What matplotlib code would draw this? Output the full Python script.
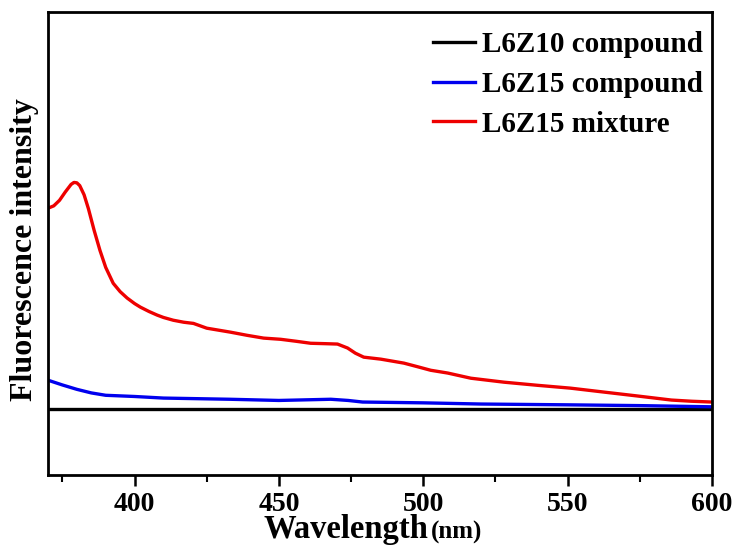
import matplotlib
matplotlib.use("Agg")
import matplotlib.pyplot as plt
from matplotlib.ticker import MultipleLocator

# Data
wl_red = [370, 372, 374, 376, 378, 379, 380, 381, 382.5, 384, 386, 388, 390, 392.6, 395,
          397.4, 400, 402, 405, 407.8, 410, 413.4, 417, 420.4, 425,
          433.2, 439, 444.7, 450.6, 456, 461, 466, 470.3, 473.8, 476.5, 479.4, 485.3, 493.3,
          498, 502.6, 508.5, 516.5, 528, 539.8, 551, 562.7, 574.5, 586, 593, 600]
red = [0.506, 0.512, 0.526, 0.547, 0.566, 0.571, 0.570, 0.563, 0.540, 0.505, 0.450, 0.400,
       0.357, 0.317, 0.296, 0.280, 0.266, 0.257, 0.246, 0.237, 0.231, 0.224, 0.219, 0.216, 0.204,
       0.194, 0.186, 0.179, 0.176, 0.171, 0.166, 0.165, 0.164, 0.154, 0.141, 0.131, 0.126, 0.116,
       0.107, 0.098, 0.091, 0.078, 0.068, 0.06, 0.053, 0.043, 0.033, 0.023, 0.020, 0.018]

wl_blue = [370, 375, 380, 385, 390, 400, 410, 433, 450, 468, 474, 479, 500, 520, 550, 575, 600]
blue = [0.073, 0.061, 0.05, 0.041, 0.035, 0.032, 0.028, 0.025, 0.022, 0.025, 0.022, 0.018,
        0.016, 0.013, 0.011, 0.009, 0.006]

wl_black = [370, 400, 450, 500, 550, 600]
black = [0.0, 0.0, 0.0, 0.0, 0.0, 0.0]

labels = ["L6Z10 compound", "L6Z15 compound", "L6Z15 mixture"]

plt.rcParams['font.family'] = ['Liberation Serif', 'DejaVu Serif']
plt.rcParams['font.weight'] = 'bold'

fig = plt.figure(figsize=(7.36, 5.48), dpi=100)
ax = fig.add_axes([0.0652, 0.133, 0.902, 0.845])

ax.plot(wl_black, black, color='black', lw=2.4, label=labels[0])
ax.plot(wl_blue, blue, color='#0000ee', lw=2.4, label=labels[1])
ax.plot(wl_red, red, color='#ee0000', lw=2.4, label=labels[2], solid_joinstyle='round')

ax.set_xlim(370, 600)
ax.set_ylim(-0.166, 1.0)
ax.set_yticks([])
ax.xaxis.set_major_locator(MultipleLocator(50))
ax.xaxis.set_minor_locator(MultipleLocator(25))
ax.tick_params(axis='x', which='major', direction='out', length=8, width=1.8,
               labelsize=20, pad=4)
ax.tick_params(axis='x', which='minor', direction='out', length=5, width=1.5)
for lab in ax.get_xticklabels():
    lab.set_fontweight('bold')
for s in ax.spines.values():
    s.set_linewidth(2)

fig.text(0.033, 0.544, "Fluorescence intensity", fontsize=23, fontweight='bold',
         rotation=90, ha='center', va='center')

fig.text(0.582, 0.018, "Wavelength", fontsize=23.5, fontweight='bold', ha='right', va='baseline')
fig.text(0.586, 0.018, "(nm)", fontsize=18, fontweight='bold', ha='left', va='baseline')

leg = ax.legend(loc='upper right', bbox_to_anchor=(1.0, 0.978), frameon=False,
                handlelength=1.45, handletextpad=0.25, labelspacing=0.44,
                borderaxespad=0.0, borderpad=0.3,
                prop={'weight': 'bold', 'size': 21})

fig.savefig("out.png", dpi=100)
